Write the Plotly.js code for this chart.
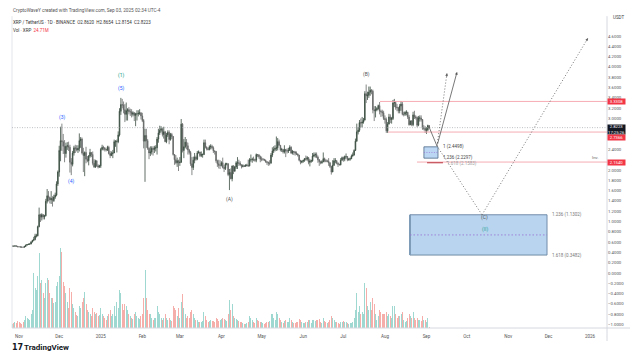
<!DOCTYPE html>
<html><head><meta charset="utf-8">
<script src="https://cdn.plot.ly/plotly-3.0.1.min.js"></script>
<style>html,body{margin:0;padding:0;background:#fff;}#chart{width:630px;height:352px;}</style>
</head><body><div id="chart"></div>
<script>
// ---- DATA (XRP/USDT daily, Binance) from 2024-10-27 to 2025-09-03 ----
const startDate = [2024, 9, 27];
const firstOpen = 0.518;
const closeP = [
0.525,0.520,0.527,0.519,0.510,
0.509,0.504,0.502,0.499,0.516,0.541,0.553,0.560,0.562,0.600,0.634,0.651,0.720,0.722,0.900,1.131,1.085,1.131,1.090,1.111,1.392,1.498,1.464,1.420,1.446,1.407,1.475,1.512,1.730,1.960,
2.380,2.570,2.550,2.460,2.320,2.460,2.470,2.440,2.150,2.110,2.330,2.430,2.420,2.390,2.420,2.570,2.600,2.330,2.280,2.340,2.210,2.180,2.270,2.340,2.300,2.130,2.060,2.180,2.080,2.060,2.080,
2.400,2.440,2.430,2.400,2.390,2.440,2.320,2.280,2.320,2.330,2.550,2.550,2.550,2.680,3.140,3.270,3.260,3.170,3.080,3.150,3.170,3.130,3.130,3.080,3.110,3.060,3.090,3.090,3.100,3.110,3.050,
2.960,2.560,2.670,2.570,2.420,2.330,2.350,2.420,2.400,2.430,2.430,2.600,2.720,2.770,2.800,2.690,2.740,2.550,2.680,2.730,2.590,2.690,2.650,2.300,2.200,2.140,2.180,2.140,
2.150,2.890,2.380,2.450,2.540,2.470,2.390,2.340,2.120,2.050,2.190,2.250,2.210,2.330,2.350,2.280,2.300,2.300,2.530,2.440,2.410,2.400,2.450,2.460,2.430,2.370,2.360,2.180,2.120,2.090,2.090,
2.140,2.050,2.030,2.120,2.120,1.910,1.950,1.830,2.080,1.980,2.060,2.140,2.140,2.130,2.100,2.070,2.080,2.070,2.090,2.090,2.080,2.200,2.200,2.210,2.200,2.190,2.300,2.290,2.260,2.210,
2.210,2.210,2.190,2.160,2.150,2.130,2.130,2.290,2.370,2.400,2.420,2.430,2.550,2.480,2.390,2.400,2.350,2.400,2.370,2.370,2.380,2.440,2.330,2.360,2.350,2.330,2.310,2.290,2.190,2.150,2.170,
2.190,2.220,2.210,2.240,2.150,2.170,2.180,2.270,2.290,2.300,2.250,2.200,2.160,2.140,2.160,2.220,2.180,2.170,2.170,2.140,2.070,1.960,2.090,2.180,2.180,2.130,2.110,2.100,2.190,2.240,
2.210,2.260,2.260,2.200,2.210,2.220,2.270,2.290,2.380,2.560,2.740,2.770,2.920,2.910,2.930,2.970,3.480,3.440,3.450,3.510,3.550,3.530,3.170,3.150,3.170,3.190,3.250,3.140,3.130,3.110,3.000,
2.980,2.760,2.890,3.030,2.980,3.000,3.300,3.310,3.220,3.210,3.150,3.240,3.280,3.080,3.080,3.120,3.120,3.030,2.880,2.950,2.880,3.070,3.030,3.020,2.870,3.010,3.010,2.980,2.810,2.810,2.770,
2.780,2.862,2.8223];
const highP = [
0.528,0.528,0.534,0.530,0.524,
0.515,0.513,0.512,0.507,0.520,0.549,0.560,0.567,0.574,0.618,0.643,0.702,0.762,0.760,0.920,1.270,1.150,1.160,1.145,1.130,1.440,1.630,1.590,1.480,1.590,1.490,1.520,1.560,1.780,1.990,
2.470,2.840,2.900,2.700,2.580,2.530,2.540,2.550,2.490,2.230,2.370,2.470,2.490,2.480,2.480,2.710,2.640,2.630,2.430,2.360,2.450,2.270,2.290,2.410,2.340,2.360,2.210,2.200,2.180,2.110,2.100,
2.430,2.490,2.470,2.440,2.410,2.470,2.470,2.370,2.360,2.390,2.590,2.580,2.590,2.750,3.200,3.400,3.380,3.330,3.280,3.310,3.200,3.220,3.190,3.180,3.140,3.120,3.110,3.160,3.160,3.180,3.120,
3.110,2.990,2.800,2.800,2.600,2.440,2.460,2.460,2.460,2.470,2.480,2.640,2.800,2.860,2.850,2.810,2.840,2.760,2.720,2.770,2.770,2.720,2.720,2.660,2.310,2.290,2.240,2.200,
2.250,2.990,2.910,2.600,2.640,2.600,2.530,2.410,2.370,2.250,2.260,2.330,2.280,2.370,2.380,2.350,2.360,2.320,2.590,2.590,2.460,2.440,2.480,2.500,2.490,2.460,2.380,2.370,2.200,2.200,2.190,
2.170,2.240,2.100,2.140,2.140,2.130,2.020,2.030,2.080,2.090,2.080,2.170,2.250,2.200,2.170,2.110,2.110,2.100,2.110,2.120,2.200,2.230,2.300,2.240,2.260,2.220,2.320,2.310,2.310,2.280,
2.260,2.230,2.210,2.200,2.170,2.160,2.190,2.330,2.440,2.460,2.480,2.650,2.620,2.590,2.480,2.430,2.400,2.480,2.400,2.420,2.430,2.480,2.460,2.390,2.370,2.370,2.360,2.320,2.290,2.190,2.180,
2.190,2.230,2.280,2.270,2.250,2.210,2.200,2.330,2.340,2.340,2.340,2.280,2.210,2.180,2.190,2.340,2.240,2.210,2.200,2.230,2.150,2.080,2.190,2.230,2.230,2.190,2.150,2.120,2.230,2.260,
2.260,2.280,2.320,2.270,2.230,2.240,2.300,2.340,2.400,2.610,2.900,2.830,2.970,3.000,3.030,3.010,3.530,3.660,3.520,3.620,3.620,3.570,3.560,3.240,3.240,3.220,3.270,3.320,3.170,3.170,3.150,
3.060,3.020,2.930,3.090,3.080,3.030,3.360,3.380,3.330,3.280,3.220,3.280,3.340,3.320,3.130,3.140,3.160,3.130,3.070,2.960,2.970,3.130,3.150,3.060,3.040,3.050,3.060,3.060,2.990,2.870,2.850,
2.830,2.880,2.8654];
const lowP = [
0.512,0.512,0.514,0.514,0.500,
0.501,0.493,0.495,0.495,0.497,0.506,0.533,0.545,0.551,0.559,0.595,0.620,0.633,0.690,0.710,0.887,0.990,1.020,1.040,1.040,1.100,1.350,1.390,1.350,1.340,1.290,1.380,1.440,1.490,1.690,
1.870,2.170,2.370,2.310,2.150,2.240,2.390,2.370,1.950,1.900,2.070,2.280,2.330,2.360,2.330,2.360,2.430,2.300,1.960,1.880,2.130,2.150,2.090,2.240,2.250,2.090,2.040,2.040,2.060,2.030,2.040,
2.040,2.380,2.380,2.360,2.360,2.370,2.300,2.230,2.270,2.230,2.330,2.450,2.340,2.520,2.650,3.070,3.200,3.100,2.930,2.960,2.960,3.080,3.050,3.020,3.040,2.950,2.850,2.960,3.040,3.070,2.980,
2.930,2.420,1.770,2.430,2.390,2.210,2.270,2.300,2.280,2.330,2.360,2.300,2.530,2.680,2.730,2.650,2.610,2.540,2.520,2.640,2.500,2.570,2.600,2.280,2.100,2.110,2.060,1.980,
2.080,2.140,2.340,2.230,2.420,2.400,2.300,2.300,2.080,1.900,2.000,2.130,2.180,2.190,2.320,2.250,2.250,2.240,2.290,2.420,2.380,2.380,2.380,2.400,2.400,2.330,2.300,2.140,2.060,2.030,2.020,
2.070,2.030,1.960,2.000,2.090,1.880,1.610,1.820,1.780,1.920,1.960,2.020,2.020,2.080,2.080,2.030,2.050,2.060,2.070,2.070,2.060,2.070,2.160,2.140,2.170,2.160,2.150,2.250,2.220,2.150,
2.170,2.180,2.180,2.140,2.100,2.080,2.090,2.130,2.250,2.330,2.360,2.370,2.380,2.470,2.360,2.350,2.320,2.320,2.250,2.320,2.330,2.370,2.310,2.300,2.290,2.280,2.290,2.260,2.170,2.110,2.130,
2.140,2.160,2.180,2.180,2.110,2.070,2.140,2.160,2.250,2.240,2.230,2.140,2.080,2.110,2.120,2.150,2.150,2.150,2.150,2.080,2.040,1.910,1.960,2.080,2.130,2.110,2.060,2.090,2.090,2.180,
2.160,2.170,2.220,2.170,2.180,2.180,2.210,2.260,2.280,2.370,2.550,2.690,2.740,2.820,2.830,2.900,2.960,3.300,3.360,3.400,3.440,3.470,3.100,2.950,3.020,3.140,3.170,3.080,3.030,3.040,2.970,
2.900,2.720,2.720,2.890,2.910,2.900,2.970,3.220,3.170,3.140,3.100,3.100,3.150,3.060,3.040,3.050,3.060,2.990,2.860,2.870,2.850,2.850,2.990,2.980,2.830,2.850,2.940,2.940,2.780,2.770,2.720,
2.700,2.750,2.8154];
// volume, millions of XRP
const volumeM = [
100,125,150,125,175,
150,125,100,150,200,300,250,225,200,350,450,1375,1000,950,1300,1875,1125,1200,875,750,1125,1250,1200,875,750,750,625,650,1050,1150,
1300,2000,1900,1150,1050,875,650,500,1000,900,600,500,400,325,300,550,500,650,750,900,600,450,400,350,300,500,400,350,375,300,325,
500,350,300,250,200,300,350,450,300,350,550,300,650,500,950,875,600,450,600,550,450,350,300,250,225,350,400,300,250,225,300,
350,750,1450,750,450,350,350,250,200,250,250,550,400,350,250,200,250,350,250,200,250,200,175,550,500,450,300,500,
250,650,850,500,350,250,300,250,400,450,350,250,200,200,150,150,150,175,400,300,200,150,175,200,175,175,150,250,225,175,200,
225,250,225,200,175,350,700,450,600,300,250,225,200,175,150,150,125,100,100,125,150,300,250,200,150,125,250,200,175,150,
150,125,100,125,150,150,175,350,350,250,200,400,350,250,200,150,125,175,200,150,150,250,200,150,125,125,150,150,225,200,150,
125,125,150,150,200,200,125,200,200,175,200,200,225,150,125,250,175,150,125,150,200,300,250,200,150,150,125,100,150,150,
175,150,150,125,100,125,125,150,250,450,875,400,550,350,400,350,1125,1000,550,450,650,450,750,600,350,200,300,450,400,350,350,
350,400,300,350,300,250,550,550,350,250,300,300,350,400,200,150,175,250,350,300,250,400,250,200,250,200,200,175,300,200,200,
150,250,24.71];

// tick labels
const monthTickDates = ['2024-11-01','2024-12-01','2025-01-01','2025-02-01','2025-03-01','2025-04-01','2025-05-01','2025-06-01','2025-07-01','2025-08-01','2025-09-01','2025-10-01','2025-11-01','2025-12-01','2026-01-01'];
const monthTickText = ['Nov','Dec','2025','Feb','Mar','Apr','May','Jun','Jul','Aug','Sep','Oct','Nov','Dec','2026'];
const priceTicks = [4.6,4.4,4.2,4.0,3.8,3.6,3.4,3.2,3.0,2.4,2.0,1.8,1.6,1.4,1.2,1.0,0.8,0.6,0.4,0.2,0.0,-0.2,-0.4,-0.6,-0.8,-1.0];

// drawings: levels and projections
const resistanceLevels = [3.3308, 2.7366, 2.1540];
const levelStarts = ['2025-07-28 07:00','2025-08-03 07:00','2025-08-24 22:00'];
const lastPrice = 2.8223;
const smallFib = {x0:'2025-08-30 02:00', x1:'2025-09-09 14:00', top:2.4498, bottom:2.2297};
const bigFib = {x0:'2025-08-19 17:00', x1:'2025-11-29 22:00', top:1.1302, bottom:0.3482};
const projSolidX = ['2025-09-02 22:00','2025-09-08 20:00','2025-09-23 19:00'];
const projSolidY = [2.835, 2.466, 3.903];
const projAltX = ['2025-09-08 20:00','2025-09-16 07:00'];
const projAltY = [2.466, 3.88];
const projMainX = ['2025-09-08 20:00','2025-10-12 10:00','2025-12-30 12:00'];
const projMainY = [2.466, 1.13, 4.563];
const waveLabels = [
  {t:'(3)', x:'2024-12-03 18:00', y:3.01, c:'#2962ff'},
  {t:'(4)', x:'2024-12-10 12:00', y:1.77, c:'#2962ff'},
  {t:'(5)', x:'2025-01-16 03:00', y:3.59, c:'#2962ff'},
  {t:'(1)', x:'2025-01-16 03:00', y:3.83, c:'#089981'},
  {t:'(A)', x:'2025-04-07 05:00', y:1.42, c:'#555'},
  {t:'(B)', x:'2025-07-17 22:00', y:3.85, c:'#555'},
  {t:'(C)', x:'2025-10-14 14:00', y:1.07, c:'#555'},
  {t:'(II)', x:'2025-10-14 14:00', y:0.84, c:'#26a69a'}
];

// ---- build ----
const dates = closeP.map((_, i) => new Date(Date.UTC(startDate[0], startDate[1], startDate[2] + i)).toISOString().slice(0,10));
const openP = closeP.map((c, i) => i === 0 ? firstOpen : closeP[i-1]);
const hi = highP.map((h,i)=>Math.max(h, openP[i], closeP[i]));
const lo = lowP.map((l,i)=>Math.min(l, openP[i], closeP[i]));
const volColors = closeP.map((c,i)=> c >= openP[i] ? '#9fd8d1' : '#f5aeaa');

const X0 = '2024-10-26 18:40', X1 = '2026-01-13 16:00';
const Y0 = -1.068, Y1 = 4.951;
const FONT = 'Roboto, "Liberation Sans", Arial, sans-serif';

const traces = [
  {type:'bar', x:dates, y:volumeM, xaxis:'x', yaxis:'y2', marker:{color:volColors, line:{width:0}}, width:86400000*0.75, hoverinfo:'skip'},
  {type:'candlestick', x:dates, open:openP, high:hi, low:lo, close:closeP, xaxis:'x', yaxis:'y',
   increasing:{line:{color:'#3a4d40', width:0.8}, fillcolor:'#3a4d40'},
   decreasing:{line:{color:'#666a68', width:0.8}, fillcolor:'#444'},
   whiskerwidth:0, hoverinfo:'skip'},
];

const shapes = [];
// borders
shapes.push({type:'line', xref:'paper', yref:'paper', x0:1, x1:1, y0:1.006, y1:-0.042, line:{color:'#d6d8de', width:1}});
shapes.push({type:'line', xref:'paper', yref:'paper', x0:0, x1:0, y0:1.006, y1:0, line:{color:'#e3e5ea', width:1}});
shapes.push({type:'line', xref:'paper', yref:'paper', x0:0, x1:1.0387, y0:0, y1:0, line:{color:'#d6d8de', width:1}});
// last price dotted line
shapes.push({type:'line', xref:'paper', yref:'y', x0:0, x1:1, y0:lastPrice, y1:lastPrice, line:{color:'#a3a6ad', width:0.7, dash:'1px,1.5px'}});
// resistance / support levels
resistanceLevels.forEach((v,i)=>shapes.push({type:'line', xref:'x', yref:'y', x0:levelStarts[i], x1:X1, y0:v, y1:v, line:{color:'#f5a3aa', width:0.9}}));
// small fib box
shapes.push({type:'rect', xref:'x', yref:'y', x0:smallFib.x0, x1:smallFib.x1, y0:smallFib.bottom, y1:smallFib.top, fillcolor:'#bcd7f3', line:{color:'#4d6a88', width:0.8}});
shapes.push({type:'line', xref:'x', yref:'y', x0:smallFib.x0, x1:smallFib.x1, y0:(smallFib.top+smallFib.bottom)/2, y1:(smallFib.top+smallFib.bottom)/2, line:{color:'#9b6fd6', width:0.7, dash:'1px,1.5px'}});
shapes.push({type:'line', xref:'x', yref:'y', x0:'2025-09-01 10:00', x1:'2025-09-13 07:00', y0:2.14, y1:2.14, line:{color:'#b8323c', width:1}});
// big fib box
shapes.push({type:'rect', xref:'x', yref:'y', x0:bigFib.x0, x1:bigFib.x1, y0:bigFib.bottom, y1:bigFib.top, fillcolor:'#b8d4ef', line:{color:'#66829f', width:0.9}});
shapes.push({type:'line', xref:'x', yref:'y', x0:bigFib.x0, x1:bigFib.x0, y0:bigFib.bottom, y1:bigFib.top, line:{color:'#7e9bb8', width:2}});
shapes.push({type:'line', xref:'x', yref:'y', x0:bigFib.x0, x1:bigFib.x1, y0:(bigFib.top+bigFib.bottom)/2, y1:(bigFib.top+bigFib.bottom)/2, line:{color:'#9b6fd6', width:0.8, dash:'1.5px,2px'}});
// projection paths
function seg(xs, ys, line){ for(let i=0;i<xs.length-1;i++) shapes.push({type:'line', xref:'x', yref:'y', x0:xs[i], x1:xs[i+1], y0:ys[i], y1:ys[i+1], line}); }
seg(projSolidX.slice(0,2), projSolidY.slice(0,2), {color:'#555', width:0.8});
seg(projAltX, projAltY, {color:'#666', width:0.9, dash:'1px,2px'});
seg(projMainX, projMainY, {color:'#666', width:0.9, dash:'1px,2px'});

const ann = [];
const small = (text, x, y, color, size, extra) => Object.assign({text, x, y, xref:'x', yref:'y', showarrow:false, font:{family:FONT, size:size||4.6, color:color||'#444'}}, extra||{});
// solid arrow
ann.push({x:projSolidX[2], y:projSolidY[2], ax:projSolidX[1], ay:projSolidY[1], xref:'x', yref:'y', axref:'x', ayref:'y', showarrow:true, arrowhead:2, arrowsize:0.7, arrowwidth:0.8, arrowcolor:'#555', text:''});
// dotted arrowheads
ann.push({x:projAltX[1], y:projAltY[1], ax:-0.7, ay:5, xref:'x', yref:'y', showarrow:true, arrowhead:2, arrowsize:0.7, arrowwidth:0.8, arrowcolor:'#666', text:''});
ann.push({x:projMainX[2], y:projMainY[2], ax:-2.6, ay:4.3, xref:'x', yref:'y', showarrow:true, arrowhead:2, arrowsize:0.7, arrowwidth:0.8, arrowcolor:'#666', text:''});
// wave labels
waveLabels.forEach(w=>ann.push(small(w.t, w.x, w.y, w.c, 5)));
// fib labels
ann.push(small('1 ('+smallFib.top.toFixed(4)+')', '2025-09-11 19:00', smallFib.top, '#444', 4.5, {xanchor:'left'}));
ann.push(small('1.236 ('+smallFib.bottom.toFixed(4)+')', '2025-09-11 19:00', smallFib.bottom+0.02, '#444', 4.5, {xanchor:'left'}));
ann.push(small('1.618 (2.1583)', '2025-09-14 19:00', 2.13, '#a0a0a0', 4.5, {xanchor:'left'}));
ann.push(small('1.236 ('+bigFib.top.toFixed(4)+')', '2025-12-02 02:00', bigFib.top, '#777', 4.5, {xanchor:'left'}));
ann.push(small('1.618 ('+bigFib.bottom.toFixed(4)+')', '2025-12-02 02:00', bigFib.bottom, '#777', 4.5, {xanchor:'left'}));
ann.push({text:'Inv.', xref:'paper', yref:'y', x:0.99, y:2.16, xanchor:'right', yanchor:'bottom', showarrow:false, font:{family:FONT, size:4.3, color:'#666'}});
// right-axis price boxes
const boxAnn = (text, v, bg, shift, h) => ({text, xref:'paper', yref:'y', x:1, y:v, xanchor:'left', xshift:0, yshift:shift, width:17, height:h||5, showarrow:false, bgcolor:bg, borderpad:0, align:'center', font:{family:FONT, size:4.2, color:'#fff'}});
ann.push(boxAnn(resistanceLevels[0].toFixed(4), resistanceLevels[0], '#f23645', -0.5));
ann.push(boxAnn(lastPrice.toFixed(4)+'<br>17:25:26', lastPrice, '#131722', -2, 9));
ann.push(boxAnn(resistanceLevels[1].toFixed(4), resistanceLevels[1], '#f23645', -5));
ann.push(boxAnn(resistanceLevels[2].toFixed(4), resistanceLevels[2], '#f23645', -0.5));
ann.push({text:'USDT', xref:'paper', yref:'paper', x:1.0185, y:1.016, xanchor:'center', showarrow:false, font:{family:FONT, size:4.5, color:'#444'}});
// header
const hdr = (text, y, size, color) => ({text, xref:'paper', yref:'paper', x:0, xshift:-1, y, xanchor:'left', yanchor:'middle', showarrow:false, font:{family:FONT, size, color}});
ann.push(hdr('CryptoWaveY created with TradingView.com, Sep 03, 2025 02:34 UTC-4', 1.0226, 4.7, '#555'));
ann.push(hdr('XRP / TetherUS · 1D · BINANCE  O2.8620  H2.8654  L2.8154  C2.8223', 0.9839, 4.5, '#333'));
ann.push(hdr('Vol · XRP  <span style="color:#f23645">24.71M</span>', 0.961, 4.5, '#333'));
// footer logo
ann.push({text:'<b>17</b>', xref:'paper', yref:'paper', x:-0.003, y:-0.0613, xanchor:'left', yanchor:'middle', showarrow:false, font:{family:'"DejaVu Sans", sans-serif', size:8, color:'#131722'}});
ann.push({text:'<b>TradingView</b>', xref:'paper', yref:'paper', x:0.0168, y:-0.0613, xanchor:'left', yanchor:'middle', showarrow:false, font:{family:FONT, size:8, color:'#131722'}});

const layout = {
  width:630, height:352, margin:{l:12, r:23, t:18, b:24, pad:0},
  paper_bgcolor:'#fff', plot_bgcolor:'#fff', showlegend:false,
  xaxis:{type:'date', range:[X0, X1], tickvals:monthTickDates, ticktext:monthTickText, ticks:'', ticklabelstandoff:4, showgrid:false, zeroline:false, showline:false, rangeslider:{visible:false}, tickfont:{family:FONT, size:4.5, color:'#555'}, fixedrange:true},
  yaxis:{side:'right', range:[Y0, Y1], tickvals:priceTicks, ticktext:priceTicks.map(v=>(v<0?'\u2212':'')+Math.abs(v).toFixed(4)), ticks:'', showgrid:false, zeroline:false, showline:false, tickfont:{family:FONT, size:4.3, color:'#555'}, fixedrange:true},
  yaxis2:{overlaying:'y', range:[0, 7750], visible:false, showgrid:false, zeroline:false, fixedrange:true},
  shapes, annotations:ann, bargap:0
};
Plotly.newPlot('chart', traces, layout, {displayModeBar:false, staticPlot:true});
</script></body></html>
